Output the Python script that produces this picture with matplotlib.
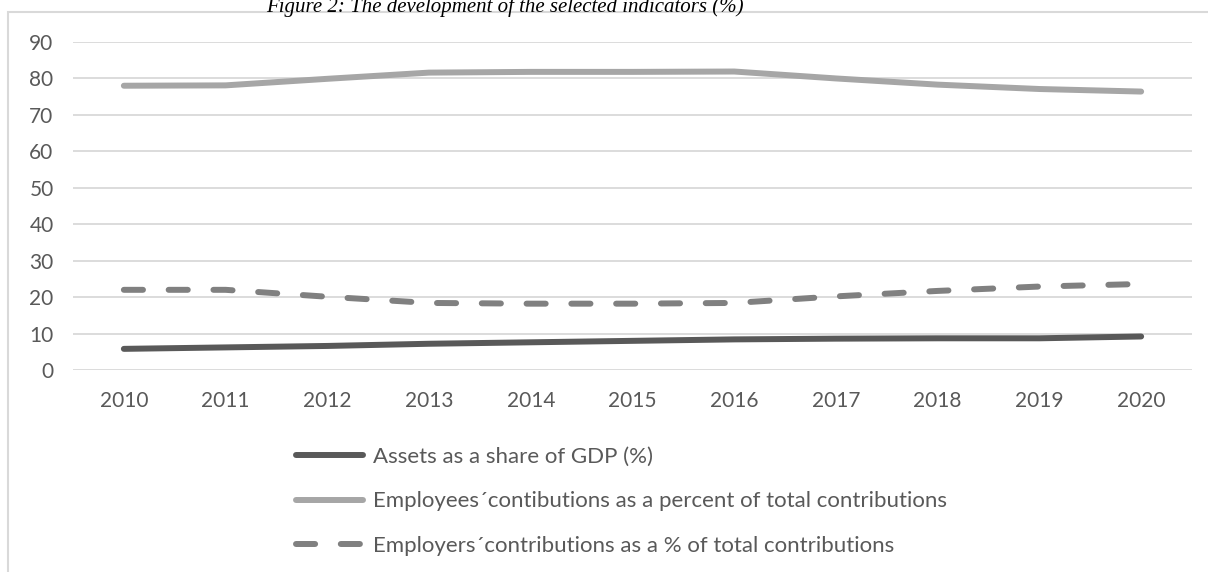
import matplotlib
matplotlib.use("Agg")
import matplotlib.pyplot as plt
from matplotlib.patches import Rectangle

years = ["2010", "2011", "2012", "2013", "2014", "2015", "2016", "2017", "2018", "2019", "2020"]
assets = [5.8, 6.2, 6.6, 7.2, 7.6, 8.0, 8.4, 8.6, 8.7, 8.7, 9.2]
employees = [78.0, 78.1, 79.9, 81.6, 81.8, 81.8, 81.9, 80.0, 78.3, 77.1, 76.4]
employers = [22.0, 22.0, 20.1, 18.4, 18.2, 18.2, 18.4, 20.2, 21.7, 22.9, 23.6]

labels = [
    "Assets as a share of GDP (%)",
    "Employees\u00b4contibutions as a percent of total contributions",
    "Employers\u00b4contributions as a % of total contributions",
]
title = "Figure 2: The development of the selected indicators (%)"

W, H = 1208, 572
plt.rcParams["font.family"] = ["Lato", "DejaVu Sans"]
fig = plt.figure(figsize=(W / 100, H / 100), dpi=100)

# outer chart box, runs off the right and bottom edge
fig.patches.append(Rectangle((8 / W, -0.2), 1.2, 1.2 - 12 / H,
                             transform=fig.transFigure, fill=False,
                             edgecolor="#d9d9d9", linewidth=1.5))

ax = fig.add_axes([73 / W, 1 - 370 / H, (1192 - 73) / W, (370 - 42) / H])
x = range(len(years))
lw = 4.3
ax.plot(x, assets, color="#595959", lw=lw, solid_capstyle="round", label=labels[0])
ax.plot(x, employees, color="#a6a6a6", lw=lw, solid_capstyle="round", label=labels[1])
ax.plot(x, employers, color="#808080", lw=lw, dashes=(3.2, 4.3),
        dash_capstyle="round", label=labels[2])

ax.set_xlim(-0.5, len(years) - 0.5)
ax.set_ylim(0, 90)
ax.set_yticks(range(0, 91, 10))
ax.set_xticks(list(x))
ax.set_xticklabels(years)
ax.grid(axis="y", color="#d9d9d9", lw=1.3)
ax.set_axisbelow(True)
for s in ax.spines.values():
    s.set_visible(False)
ax.tick_params(length=0, labelsize=15, labelcolor="#595959")
ax.tick_params(axis="x", pad=15)
ax.tick_params(axis="y", pad=14)

ax.legend(loc="upper left", bbox_to_anchor=(296 / W, 1 - 447 / H),
          bbox_transform=fig.transFigure, frameon=False, fontsize=16,
          handlelength=3.0, handletextpad=0.45, labelspacing=1.1,
          borderpad=0, borderaxespad=0, labelcolor="#595959")

fig.text(505 / W, 1 - 12 / H, title, ha="center", va="baseline",
         family="Liberation Serif", style="italic", fontsize=15, color="black")

fig.savefig("out.png", dpi=100, facecolor="white")
